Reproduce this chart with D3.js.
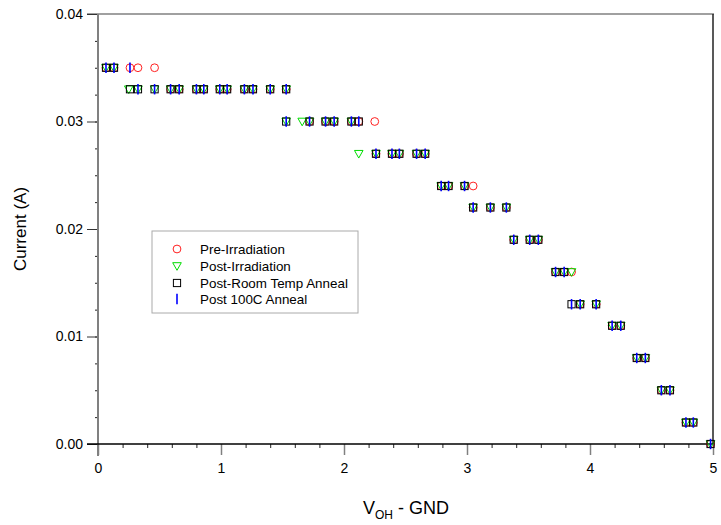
<!DOCTYPE html>
<html>
<head>
<meta charset="utf-8">
<script src="https://cdn.jsdelivr.net/npm/d3@7"></script>
<style>
  body { margin: 0; background: #fff; }
  svg text { font-family: "Liberation Sans", Arial, sans-serif; }
</style>
</head>
<body>
<div id="chart"></div>
<script>
// current levels (A) and the voltages read at each level, per series
var preV  = [0.065, 0.13, 0.26, 0.325, 0.46,
             0.59, 0.66, 0.80, 0.86, 0.99, 1.05, 1.19, 1.26, 1.40, 1.53,
             1.72, 1.85, 1.92, 2.06, 2.12, 2.25,
             2.26, 2.39, 2.45, 2.59, 2.66,
             2.79, 2.85, 2.98, 3.05,
             3.05, 3.19, 3.32,
             3.38, 3.51, 3.58,
             3.72, 3.79, 3.85,
             3.92, 4.05,
             4.18, 4.25,
             4.38, 4.45,
             4.58, 4.65,
             4.78, 4.84,
             4.98];
var preI  = [0.035, 0.035, 0.035, 0.035, 0.035,
             0.033, 0.033, 0.033, 0.033, 0.033, 0.033, 0.033, 0.033, 0.033, 0.033,
             0.030, 0.030, 0.030, 0.030, 0.030, 0.030,
             0.027, 0.027, 0.027, 0.027, 0.027,
             0.024, 0.024, 0.024, 0.024,
             0.022, 0.022, 0.022,
             0.019, 0.019, 0.019,
             0.016, 0.016, 0.016,
             0.013, 0.013,
             0.011, 0.011,
             0.008, 0.008,
             0.005, 0.005,
             0.002, 0.002,
             0.000];

var postIrrV = [0.065, 0.13,
                0.25, 0.325, 0.46, 0.59, 0.66, 0.80, 0.86, 0.99, 1.05, 1.19, 1.26, 1.40, 1.53,
                1.53, 1.66, 1.72, 1.85, 1.92, 2.06,
                2.12, 2.26, 2.39, 2.45, 2.59, 2.66,
                2.79, 2.85, 2.98,
                3.05, 3.19, 3.32,
                3.38, 3.51, 3.58,
                3.72, 3.79, 3.85,
                3.92, 4.05,
                4.18, 4.25,
                4.38, 4.45,
                4.58, 4.65,
                4.78, 4.84,
                4.98];
var postIrrI = [0.035, 0.035,
                0.033, 0.033, 0.033, 0.033, 0.033, 0.033, 0.033, 0.033, 0.033, 0.033, 0.033, 0.033, 0.033,
                0.030, 0.030, 0.030, 0.030, 0.030, 0.030,
                0.027, 0.027, 0.027, 0.027, 0.027, 0.027,
                0.024, 0.024, 0.024,
                0.022, 0.022, 0.022,
                0.019, 0.019, 0.019,
                0.016, 0.016, 0.016,
                0.013, 0.013,
                0.011, 0.011,
                0.008, 0.008,
                0.005, 0.005,
                0.002, 0.002,
                0.000];

var postRtV = [0.065, 0.13,
               0.26, 0.325, 0.46, 0.59, 0.66, 0.80, 0.86, 0.99, 1.05, 1.19, 1.26, 1.40, 1.53,
               1.53, 1.72, 1.85, 1.92, 2.06, 2.12,
               2.26, 2.39, 2.45, 2.59, 2.66,
               2.79, 2.85, 2.98,
               3.05, 3.19, 3.32,
               3.38, 3.51, 3.58,
               3.72, 3.79,
               3.85, 3.92, 4.05,
               4.18, 4.25,
               4.38, 4.45,
               4.58, 4.65,
               4.78, 4.84,
               4.98];
var postRtI = [0.035, 0.035,
               0.033, 0.033, 0.033, 0.033, 0.033, 0.033, 0.033, 0.033, 0.033, 0.033, 0.033, 0.033, 0.033,
               0.030, 0.030, 0.030, 0.030, 0.030, 0.030,
               0.027, 0.027, 0.027, 0.027, 0.027,
               0.024, 0.024, 0.024,
               0.022, 0.022, 0.022,
               0.019, 0.019, 0.019,
               0.016, 0.016,
               0.013, 0.013, 0.013,
               0.011, 0.011,
               0.008, 0.008,
               0.005, 0.005,
               0.002, 0.002,
               0.000];

var post100V = [0.065, 0.13, 0.26,
                0.325, 0.46, 0.59, 0.66, 0.80, 0.86, 0.99, 1.05, 1.19, 1.26, 1.40, 1.53,
                1.53, 1.72, 1.85, 1.92, 2.06, 2.12,
                2.26, 2.39, 2.45, 2.59, 2.66,
                2.79, 2.85, 2.98,
                3.05, 3.19, 3.32,
                3.38, 3.51, 3.58,
                3.72, 3.79,
                3.85, 3.92, 4.05,
                4.18, 4.25,
                4.38, 4.45,
                4.58, 4.65,
                4.78, 4.84,
                4.98];
var post100I = [0.035, 0.035, 0.035,
                0.033, 0.033, 0.033, 0.033, 0.033, 0.033, 0.033, 0.033, 0.033, 0.033, 0.033, 0.033,
                0.030, 0.030, 0.030, 0.030, 0.030, 0.030,
                0.027, 0.027, 0.027, 0.027, 0.027,
                0.024, 0.024, 0.024,
                0.022, 0.022, 0.022,
                0.019, 0.019, 0.019,
                0.016, 0.016,
                0.013, 0.013, 0.013,
                0.011, 0.011,
                0.008, 0.008,
                0.005, 0.005,
                0.002, 0.002,
                0.000];

var seriesNames = ["Pre-Irradiation", "Post-Irradiation", "Post-Room Temp Anneal", "Post 100C Anneal"];
var xTicks = [0, 1, 2, 3, 4, 5];
var yTicks = [0, 0.01, 0.02, 0.03, 0.04];

(function() {
var W = 721, H = 525;
var pl = 98, pr = 713, pt = 14, pb = 444;

var svg = d3.select("#chart").append("svg")
    .attr("width", W).attr("height", H);

var x = d3.scaleLinear().domain([0, 5]).range([pl, pr]);
var y = d3.scaleLinear().domain([0, 0.04]).range([pb, pt]);

function zip(vs, is) {
    return vs.map(function(v, i) { return { v: v, i: is[i] }; });
}

// frame: top gray, right dark
svg.append("line").attr("x1", pl - 11).attr("x2", pr + 1)
    .attr("y1", pt).attr("y2", pt).attr("stroke", "#808080").attr("stroke-width", 1.5);
svg.append("line").attr("x1", pr).attr("x2", pr)
    .attr("y1", pt).attr("y2", pb).attr("stroke", "#222").attr("stroke-width", 1.5);

// y axis
var yMinor = d3.range(0, 0.04001, 0.0025);
svg.append("g").attr("transform", "translate(" + pl + ",0)")
    .call(d3.axisLeft(y).tickValues(yMinor).tickSize(3).tickFormat(""))
    .call(function(g) { g.select(".domain").remove(); g.selectAll("line").attr("stroke", "#222"); });
svg.append("g").attr("transform", "translate(" + pl + ",0)")
    .call(d3.axisLeft(y).tickValues(yTicks).tickSize(11).tickPadding(4).tickFormat(d3.format(".2f")))
    .call(function(g) {
        g.select(".domain").remove();
        g.selectAll("line").attr("stroke", "#333");
        g.selectAll("text").attr("font-size", 14).attr("fill", "#000");
    });
svg.append("line").attr("x1", pl).attr("x2", pl)
    .attr("y1", pt).attr("y2", pb + 12).attr("stroke", "#808080").attr("stroke-width", 2);

// x axis
var xMinor = d3.range(0, 5.001, 0.2);
svg.append("g").attr("transform", "translate(0," + pb + ")")
    .call(d3.axisBottom(x).tickValues(xMinor).tickSize(4).tickFormat(""))
    .call(function(g) { g.select(".domain").remove(); g.selectAll("line").attr("stroke", "#222"); });
svg.append("g").attr("transform", "translate(0," + pb + ")")
    .call(d3.axisBottom(x).tickValues(xTicks).tickSize(11).tickPadding(8).tickFormat(d3.format("d")))
    .call(function(g) {
        g.select(".domain").remove();
        g.selectAll("line").attr("stroke", "#808080").attr("stroke-width", 1.5);
        g.selectAll("text").attr("font-size", 14).attr("fill", "#000");
    });
svg.append("line").attr("x1", pl - 11).attr("x2", pr)
    .attr("y1", pb).attr("y2", pb).attr("stroke", "#000").attr("stroke-width", 1.5);

// axis titles
svg.append("text").attr("transform", "translate(26," + ((pt + pb) / 2) + ") rotate(-90)")
    .attr("text-anchor", "middle").attr("font-size", 17).text("Current (A)");
var xt = svg.append("text").attr("x", 406).attr("y", 514)
    .attr("text-anchor", "middle").attr("font-size", 18);
xt.append("tspan").text("V");
xt.append("tspan").attr("font-size", 12).attr("dy", 5).text("OH");
xt.append("tspan").attr("dy", -5).text(" - GND");

// markers
var marks = svg.append("g");

function drawCircle(g, cx, cy) {
    g.append("circle").attr("cx", cx).attr("cy", cy).attr("r", 3.9)
        .attr("fill", "none").attr("stroke", "#ff2020").attr("stroke-width", 1);
}
function drawTri(g, cx, cy) {
    g.append("path").attr("d", "M" + (cx - 4.3) + "," + (cy - 3.3) + "L" + (cx + 4.3) + "," + (cy - 3.3) + "L" + cx + "," + (cy + 4.3) + "Z")
        .attr("fill", "none").attr("stroke", "#00dd00").attr("stroke-width", 1);
}
function drawSq(g, cx, cy) {
    g.append("rect").attr("x", cx - 3.6).attr("y", cy - 3.6).attr("width", 7.2).attr("height", 7.2)
        .attr("fill", "none").attr("stroke", "#000").attr("stroke-width", 1);
}
function drawBar(g, cx, cy) {
    g.append("line").attr("x1", cx).attr("x2", cx).attr("y1", cy - 5.2).attr("y2", cy + 5.2)
        .attr("stroke", "#0000ff").attr("stroke-width", 1.6);
}
var drawers = [drawCircle, drawTri, drawSq, drawBar];
var data = [zip(preV, preI), zip(postIrrV, postIrrI), zip(postRtV, postRtI), zip(post100V, post100I)];

data.forEach(function(pts, k) {
    pts.forEach(function(p) { drawers[k](marks, x(p.v), y(p.i)); });
});

// legend
var lg = svg.append("g");
lg.append("rect").attr("x", 152).attr("y", 231).attr("width", 206).attr("height", 82)
    .attr("fill", "#fff").attr("stroke", "#aaa").attr("stroke-width", 1);
var rowsY = [249, 266, 283, 299];
seriesNames.forEach(function(name, k) {
    drawers[k](lg, 177, rowsY[k]);
    lg.append("text").attr("x", 200).attr("y", rowsY[k] + 4.5)
        .attr("font-size", 13.4).text(name);
});
})();
</script>
</body>
</html>
